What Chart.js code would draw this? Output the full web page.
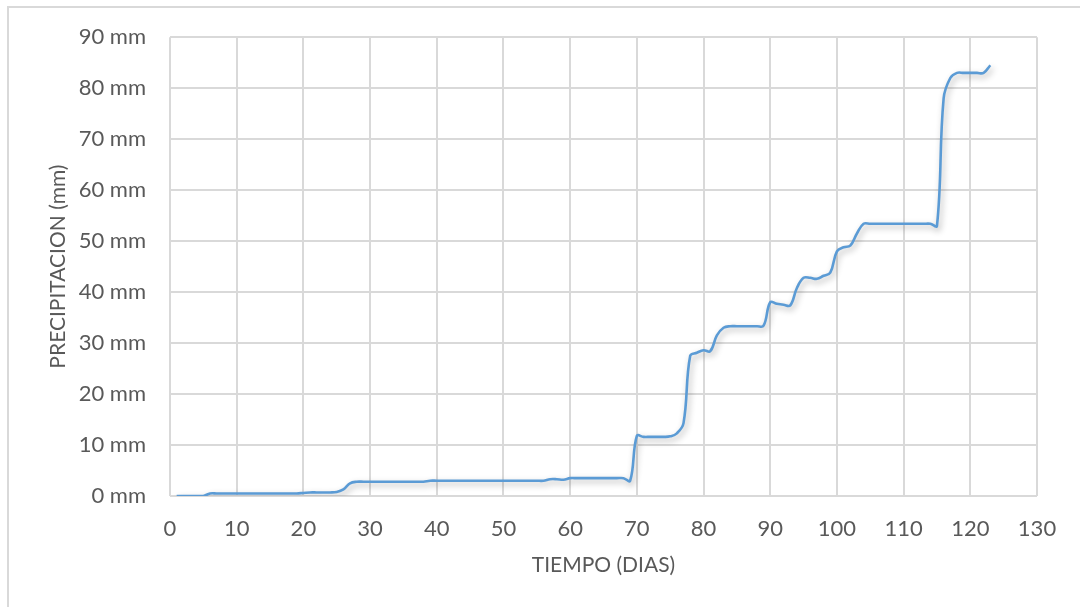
<!DOCTYPE html>
<html>
<head>
<meta charset="utf-8">
<script src="https://cdn.jsdelivr.net/npm/chart.js@4/dist/chart.umd.min.js"></script>
<style>
  body { margin: 0; background: #fff; }
  #wrap { width: 1080px; height: 607px; position: relative; }
</style>
</head>
<body>
<div id="wrap"><canvas id="rain-chart"></canvas></div>
<script>
const ctx = document.getElementById('rain-chart')

// dias (eje x)
const days = [
  1, 2, 3, 4, 5, 6, 7, 8, 9, 10,
  11, 12, 13, 14, 15, 16, 17, 18, 19, 20,
  21, 22, 23, 24, 25, 26, 27, 28, 29, 30,
  31, 32, 33, 34, 35, 36, 37, 38, 39, 40,
  41, 42, 43, 44, 45, 46, 47, 48, 49, 50,
  51, 52, 53, 54, 55, 56, 57, 58, 59, 60,
  61, 62, 63, 64, 65, 66, 67, 68, 69, 70,
  71, 72, 73, 74, 75, 76, 77, 78, 79, 80,
  81, 82, 83, 84, 85, 86, 87, 88, 89, 90,
  91, 92, 93, 94, 95, 96, 97, 98, 99, 100,
  101, 102, 103, 104, 105, 106, 107, 108, 109, 110,
  111, 112, 113, 114, 115, 116, 117, 118, 119, 120,
  121, 122, 123
]

// precipitacion acumulada (mm)
const rain = [
  0, 0, 0, 0, 0, 0.5, 0.5, 0.5, 0.5, 0.5,
  0.5, 0.5, 0.5, 0.5, 0.5, 0.5, 0.5, 0.5, 0.5, 0.6,
  0.7, 0.7, 0.7, 0.7, 0.8, 1.3, 2.5, 2.8, 2.8, 2.8,
  2.8, 2.8, 2.8, 2.8, 2.8, 2.8, 2.8, 2.8, 3.0, 3.0,
  3.0, 3.0, 3.0, 3.0, 3.0, 3.0, 3.0, 3.0, 3.0, 3.0,
  3.0, 3.0, 3.0, 3.0, 3.0, 3.0, 3.3, 3.3, 3.2, 3.5,
  3.5, 3.5, 3.5, 3.5, 3.5, 3.5, 3.5, 3.5, 3.0, 11.8,
  11.6, 11.6, 11.6, 11.6, 11.7, 12.3, 14.3, 27.5, 28.1, 28.6,
  28.4, 31.5, 33.0, 33.3, 33.3, 33.3, 33.3, 33.3, 33.4, 38.0,
  37.7, 37.5, 37.4, 40.8, 42.8, 42.8, 42.6, 43.2, 43.8, 48.0,
  48.8, 49.1, 51.5, 53.4, 53.4, 53.4, 53.4, 53.4, 53.4, 53.4,
  53.4, 53.4, 53.4, 53.4, 53.0, 78.0, 82.0, 83.0, 83.0, 83.0,
  83.0, 83.0, 84.5
]

const tickFont = { family: "'Lato', 'Open Sans', sans-serif", size: 22 }
const titleFont = { family: "'Lato', 'Open Sans', sans-serif", size: 21 }
const gray = '#595959'
const gridColor = '#d9d9d9'

// marco gris y sombra de la linea (como en Excel)
const framePlugin = {
  id: 'frame',
  beforeDraw: (chart) => {
    const c = chart.ctx
    c.save()
    c.fillStyle = '#fff'
    c.fillRect(0, 0, chart.width, chart.height)
    c.strokeStyle = gridColor
    c.lineWidth = 2
    c.strokeRect(8, 7, 1200, 800)
    c.restore()
  },
  beforeDatasetsDraw: (chart) => {
    const c = chart.ctx
    c.save()
    c.shadowColor = 'rgba(0, 0, 0, 0.3)'
    c.shadowBlur = 6
    c.shadowOffsetX = 2
    c.shadowOffsetY = 3
  },
  afterDatasetsDraw: (chart) => {
    chart.ctx.restore()
  }
}

const rainChart = new Chart(ctx, {
  type: 'line',
  data: {
    datasets: [{
      label: 'Precipitacion',
      data: days.map((d, i) => ({ x: d, y: rain[i] })),
      borderColor: '#5b9bd5',
      borderWidth: 2.6,
      pointRadius: 0,
      tension: 0.4,
      fill: false
    }]
  },
  options: {
    responsive: true,
    maintainAspectRatio: false,
    animation: false,
    layout: {
      padding: { top: 36, right: 43, bottom: 25, left: 36 }
    },
    plugins: {
      legend: { display: false },
      tooltip: { enabled: false }
    },
    scales: {
      x: {
        type: 'linear',
        min: 0,
        max: 130,
        ticks: {
          stepSize: 10,
          color: gray,
          font: tickFont,
          padding: 20,
          maxRotation: 0
        },
        grid: { color: gridColor, lineWidth: 2, drawTicks: false },
        border: { display: false },
        title: {
          display: true,
          text: 'TIEMPO (DIAS)',
          color: gray,
          font: titleFont,
          padding: { top: 0, bottom: 4 }
        },
        afterFit: (scale) => { scale.height = 86 }
      },
      y: {
        min: 0,
        max: 90,
        ticks: {
          stepSize: 10,
          color: gray,
          font: tickFont,
          padding: 24,
          callback: (v) => v + ' mm'
        },
        grid: { color: gridColor, lineWidth: 2, drawTicks: false },
        border: { display: false },
        title: {
          display: true,
          text: 'PRECIPITACION (mm)',
          color: gray,
          font: titleFont,
          padding: { top: 10, bottom: 0 }
        },
        afterFit: (scale) => { scale.width = 134 }
      }
    }
  },
  plugins: [framePlugin]
})
</script>
</body>
</html>
